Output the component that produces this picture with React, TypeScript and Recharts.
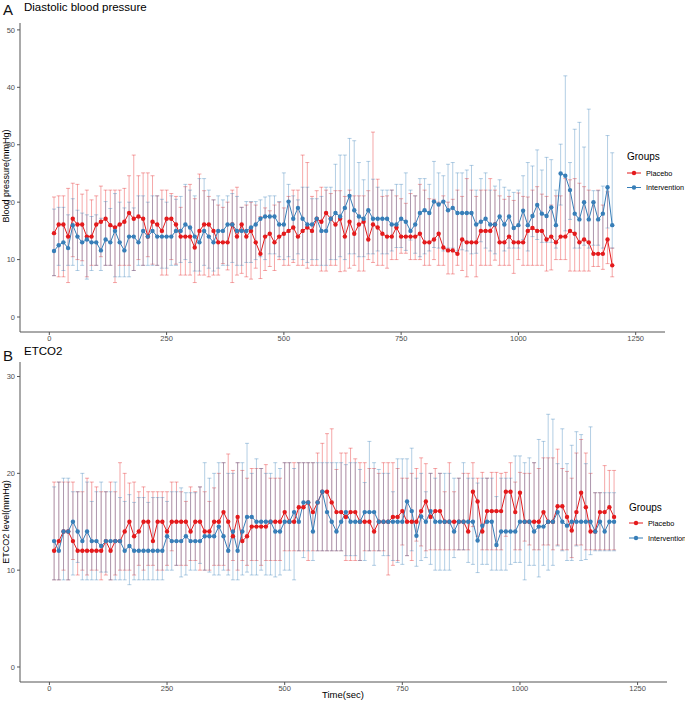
import React from "react";
import { ErrorBar, Line, LineChart, XAxis, YAxis } from "recharts";

// time points (sec)
const seconds = [
  10, 20, 30, 40, 50, 60, 70, 80, 90, 100, 110, 120, 130, 140, 150, 160, 170, 180, 190, 200,
  210, 220, 230, 240, 250, 260, 270, 280, 290, 300, 310, 320, 330, 340, 350, 360, 370, 380, 390, 400,
  410, 420, 430, 440, 450, 460, 470, 480, 490, 500, 510, 520, 530, 540, 550, 560, 570, 580, 590, 600,
  610, 620, 630, 640, 650, 660, 670, 680, 690, 700, 710, 720, 730, 740, 750, 760, 770, 780, 790, 800,
  810, 820, 830, 840, 850, 860, 870, 880, 890, 900, 910, 920, 930, 940, 950, 960, 970, 980, 990, 1000,
  1010, 1020, 1030, 1040, 1050, 1060, 1070, 1080, 1090, 1100, 1110, 1120, 1130, 1140, 1150, 1160, 1170, 1180, 1190, 1200,
];

const timeTicks = [0, 250, 500, 750, 1000, 1250];
const bpTicks = [0, 10, 20, 30, 40, 50];
const etTicks = [0, 10, 20, 30];

// A: diastolic blood pressure
const bpPlacebo = [
  14.6, 16.1, 16.1, 14.0, 17.1, 16.1, 16.1, 14.0, 14.0, 16.1, 16.6, 17.1, 16.0, 15.6, 16.1, 16.6, 18.1, 17.1, 17.5, 17.1, 14.0, 16.6, 16.1, 15.0,
  17.1, 17.1, 16.1, 14.0, 14.0, 14.0, 12.1, 15.0, 16.1, 16.1, 15.0, 13.0, 13.0, 13.0, 16.1, 14.0, 16.1, 14.0, 15.0, 13.0, 11.0, 14.0, 14.5, 13.0, 14.0,
  14.5, 15.0, 15.6, 14.0, 15.0, 15.6, 15.0, 17.1, 16.6, 18.1, 17.1, 16.1, 17.1, 14.0, 16.6, 14.5, 16.1, 16.6, 13.5, 16.1, 15.6, 14.5, 14.0, 14.0,
  15.6, 14.0, 14.0, 14.0, 14.0, 14.5, 13.0, 13.0, 13.5, 14.5, 12.1, 11.6, 11.6, 11.0, 13.5, 13.0, 13.0, 13.0, 15.0, 15.0, 15.0, 16.1, 13.0, 13.0, 14.0,
  13.0, 13.0, 13.0, 15.0, 15.5, 15.0, 15.0, 13.5, 14.0, 13.0, 14.0, 14.0, 15.0, 14.5, 13.0, 13.5, 13.0, 11.0, 11.0, 11.0, 13.5, 9.0,
];
const bpPlaceboHi = [
  20.9, 21.1, 21.1, 22.4, 23.3, 23.1, 21.4, 22.1, 20.4, 21.1, 22.8, 22.1, 22.1, 22.1, 22.1, 22.4, 24.6, 28.2, 24.6, 25.1, 25.1, 24.6, 21.1, 22.1,
  22.1, 21.5, 21.0, 19.1, 22.7, 23.1, 20.6, 24.9, 22.0, 21.0, 20.4, 19.5, 19.1, 20.0, 22.1, 22.6, 19.1, 19.5, 20.0, 19.5, 17.5, 19.0, 18.5, 19.5, 20.0,
  19.0, 21.0, 22.1, 22.1, 28.2, 26.9, 21.0, 22.0, 22.6, 22.1, 21.5, 22.0, 22.0, 21.0, 22.1, 21.1, 21.1, 21.1, 22.0, 32.2, 24.0, 21.0, 21.1, 22.1,
  21.1, 20.6, 19.8, 21.5, 21.1, 23.1, 22.1, 20.6, 20.5, 20.0, 21.1, 20.0, 20.5, 22.1, 21.0, 24.1, 22.1, 21.0, 22.1, 22.1, 24.1, 22.1, 21.1, 20.5, 21.0,
  20.3, 21.6, 21.0, 20.9, 22.1, 22.7, 21.4, 21.0, 19.5, 21.1, 21.1, 24.1, 23.9, 24.1, 23.3, 22.7, 22.1, 20.0, 22.1, 19.5, 21.8, 12.0,
];
const bpPlaceboLo = [
  7.2, 7.0, 7.0, 6.0, 10.5, 10.0, 9.8, 7.0, 9.0, 9.0, 10.5, 9.0, 9.0, 6.0, 9.0, 9.0, 9.0, 8.1, 10.0, 9.0, 10.5, 9.2, 9.0, 7.3,
  7.3, 10.0, 9.2, 7.3, 7.3, 7.3, 6.0, 7.3, 7.3, 7.0, 7.3, 7.3, 9.3, 8.2, 6.0, 7.3, 7.6, 7.0, 6.6, 8.5, 6.7, 8.1, 8.8, 8.1, 10.0,
  9.0, 9.0, 9.5, 9.0, 9.0, 8.5, 9.0, 9.0, 8.0, 8.0, 9.0, 9.0, 7.9, 8.0, 8.5, 9.0, 8.0, 8.0, 10.0, 9.5, 9.0, 9.0, 8.5, 10.0,
  10.0, 11.1, 11.1, 10.0, 10.0, 10.0, 9.0, 9.0, 10.0, 9.0, 9.0, 7.5, 7.5, 9.0, 8.1, 7.0, 9.0, 7.0, 9.0, 9.0, 9.0, 9.9, 9.0, 9.0, 9.0,
  7.6, 10.0, 9.0, 9.0, 9.0, 9.0, 9.0, 8.0, 8.2, 10.0, 10.0, 10.0, 8.0, 8.0, 8.0, 8.0, 8.0, 8.8, 8.8, 8.3, 9.3, 7.0,
];
const bpIntervention = [
  11.5, 12.5, 13.0, 12.0, 16.0, 14.0, 13.0, 13.5, 13.0, 13.0, 11.6, 13.5, 13.0, 15.0, 13.0, 11.6, 14.0, 14.0, 13.0, 15.0, 14.0, 15.0, 14.0, 14.0,
  14.0, 14.0, 15.0, 15.0, 16.1, 15.6, 14.0, 13.0, 15.0, 14.0, 13.0, 15.0, 15.0, 16.1, 16.1, 15.0, 15.0, 15.0, 15.6, 16.1, 17.1, 17.5, 17.5, 17.5, 16.1,
  16.1, 20.1, 17.1, 19.0, 17.1, 16.1, 16.1, 17.1, 15.0, 15.0, 17.1, 18.1, 17.5, 19.0, 21.1, 18.6, 17.5, 17.1, 18.6, 17.1, 17.1, 17.1, 17.1, 16.1,
  16.1, 17.1, 16.6, 15.0, 16.1, 18.1, 18.6, 18.1, 20.1, 19.6, 20.1, 18.6, 19.0, 18.1, 18.1, 18.1, 18.1, 16.1, 16.6, 17.1, 16.1, 16.1, 17.5, 16.1, 17.5,
  15.5, 16.0, 18.5, 16.0, 17.6, 19.5, 18.0, 17.6, 19.1, 16.0, 25.0, 24.6, 22.1, 18.0, 17.0, 20.0, 17.0, 20.0, 17.0, 18.0, 22.6, 16.0,
];
const bpInterventionHi = [
  18.8, 19.1, 19.1, 17.8, 20.6, 18.6, 18.1, 17.8, 17.5, 17.8, 17.2, 20.1, 18.9, 21.5, 20.0, 19.0, 20.0, 19.0, 21.1, 21.1, 20.0, 21.1, 21.1, 20.5,
  20.0, 21.1, 20.5, 21.0, 23.1, 22.1, 21.1, 24.1, 24.1, 22.1, 20.4, 21.1, 20.4, 21.1, 21.5, 21.0, 19.1, 20.1, 20.1, 20.1, 20.4, 20.9, 21.1, 21.1, 20.1,
  25.1, 23.1, 21.1, 20.4, 22.6, 22.6, 20.6, 20.6, 21.0, 22.6, 22.6, 26.6, 28.2, 28.2, 31.1, 30.7, 26.9, 23.9, 27.1, 24.0, 22.6, 22.1, 22.1, 22.1,
  23.1, 23.1, 25.1, 22.1, 21.1, 24.1, 24.1, 23.1, 27.1, 25.1, 24.6, 26.6, 26.9, 25.1, 25.1, 25.6, 26.4, 22.1, 24.1, 25.1, 22.1, 22.8, 23.9, 22.6, 22.1,
  21.7, 22.1, 24.6, 26.9, 26.3, 29.1, 25.6, 27.8, 27.4, 22.1, 30.1, 42.0, 26.9, 32.7, 33.9, 29.6, 36.2, 22.0, 22.0, 22.8, 31.6, 28.6,
];
const bpInterventionLo = [
  7.2, 9.0, 8.1, 9.0, 9.0, 8.1, 9.0, 6.6, 8.1, 9.0, 8.1, 9.0, 9.0, 7.0, 7.0, 7.0, 7.0, 8.1, 9.0, 9.0, 9.0, 9.0, 9.0, 8.5,
  8.5, 9.0, 9.0, 9.5, 10.0, 9.5, 8.0, 8.0, 9.0, 8.5, 8.0, 8.5, 9.0, 9.0, 9.5, 9.0, 9.0, 9.5, 9.5, 10.0, 10.5, 10.0, 11.0, 11.0, 10.5,
  10.0, 10.5, 10.0, 11.0, 10.0, 9.5, 10.0, 10.0, 9.0, 9.0, 10.0, 10.0, 10.5, 10.0, 11.0, 11.0, 10.5, 10.5, 11.0, 11.0, 11.5, 11.0, 11.0, 11.5,
  12.1, 12.1, 11.6, 13.4, 11.1, 10.5, 11.0, 11.5, 12.1, 12.0, 11.5, 12.0, 12.0, 11.5, 11.7, 11.5, 11.0, 11.1, 13.1, 12.0, 11.5, 11.0, 13.1, 11.5, 12.0,
  12.0, 12.0, 13.5, 11.5, 14.0, 13.5, 13.0, 13.0, 13.0, 12.0, 19.5, 15.0, 17.0, 12.0, 12.0, 12.5, 12.0, 12.5, 12.5, 12.0, 15.5, 12.0,
];

// B: ETCO2
const etPlacebo = [
  12, 13, 14, 14, 13, 12, 12, 12, 12, 12, 12, 13, 12, 13, 13, 14, 15, 13.5, 14, 15, 15, 13, 15, 15,
  14, 15, 15, 15, 15, 14, 15, 15, 14, 14, 15, 15, 16, 15, 13.5, 15.5, 13, 13.5, 14.5, 14.5, 14.5, 14.5, 15, 15, 15,
  16, 15, 15, 16.5, 16.5, 17, 16, 17, 18.1, 18.1, 17, 16, 16, 15.5, 16, 16, 15, 15, 15, 14, 15, 15, 15, 15.5,
  15.5, 16.1, 15, 15, 15, 16.1, 17.1, 15.5, 16.1, 16.1, 15, 15, 15, 15, 15, 14, 18.1, 17.1, 14, 16.1, 16.1, 16.1, 16.1, 18.1, 18.1,
  16, 18, 15, 15, 15, 15, 16, 15, 15, 16.6, 16.6, 15.5, 14.1, 16, 18, 16.5, 14, 14, 16, 16, 16.5, 15.5,
];
const etPlaceboHi = [
  19.1, 19.1, 19.1, 19.1, 19.1, 18.1, 18.1, 19.5, 19.1, 18.6, 18.1, 18.1, 19.1, 18.1, 21.1, 20.0, 19.0, 19.1, 18.1, 18.6, 18.1, 18.1, 18.1, 18.1,
  18.1, 19.1, 19.1, 18.1, 17.1, 18.6, 18.1, 18.6, 18.1, 17.1, 18.5, 20.0, 21.1, 22.0, 20.3, 21.1, 20.3, 19.5, 20.5, 20.5, 20.5, 20.9, 19.5, 19.5, 19.5,
  21.1, 21.1, 21.1, 21.1, 21.1, 21.1, 21.1, 22.1, 23.1, 24.1, 24.6, 20.4, 22.1, 22.1, 22.6, 21.5, 21.1, 21.1, 20.5, 20.5, 20.0, 21.1, 21.1, 21.1,
  20.5, 19.5, 19.5, 20.0, 20.5, 21.6, 21.0, 20.0, 20.5, 20.0, 18.1, 21.1, 18.1, 19.5, 20.0, 20.0, 21.1, 19.5, 20.1, 19.5, 20.1, 20.1, 20.0, 20.1, 21.1,
  19.1, 20.1, 20.0, 20.0, 21.1, 20.5, 21.6, 21.6, 21.6, 22.5, 20.5, 20.2, 19.5, 22.1, 23.5, 22.1, 20.0, 18.0, 18.0, 20.8, 20.3, 20.3,
];
const etPlaceboLo = [
  9.0, 9.0, 10.0, 9.0, 11.1, 9.5, 10.0, 9.5, 10.0, 10.0, 9.0, 9.5, 9.0, 9.5, 10.0, 10.0, 10.0, 9.5, 10.5, 10.0, 10.5, 10.5, 10.0, 10.0,
  10.5, 12.0, 10.5, 10.5, 10.5, 11.0, 11.0, 10.0, 10.0, 10.0, 10.5, 10.5, 10.5, 10.0, 11.0, 10.0, 11.0, 10.5, 11.0, 11.0, 10.5, 11.0, 11.0, 11.0, 11.0,
  12, 12, 12, 12, 12, 11, 12, 12, 12, 12, 12, 12, 12, 11, 11, 11, 11, 12, 12, 12, 12, 12, 9.5, 10.5,
  11.0, 12.6, 11.5, 11.0, 13.0, 12.5, 12.0, 12.1, 12.1, 12.1, 12.1, 12.1, 12.1, 12.1, 12.1, 12.1, 14.5, 13.5, 12.1, 12.1, 12.1, 12.1, 12.1, 13.5, 14.0,
  12.1, 12.1, 13.0, 12.6, 12.1, 12.1, 12.6, 12.6, 12.1, 12.6, 12.1, 12.1, 11.3, 12.6, 12.6, 12.1, 12.1, 12.1, 12.1, 12.1, 12.1, 12.1,
];
const etIntervention = [
  13, 12, 14, 14, 15, 14, 13, 14, 13, 13, 12.5, 13, 13, 13, 13, 12, 12.5, 12, 12, 12, 12, 12, 12, 12,
  13.5, 13, 13, 13, 13.5, 13, 13, 13, 13.5, 13.5, 13.5, 14.5, 13.5, 12, 14, 12, 14, 15.5, 15.5, 15, 15, 15, 15, 14, 14,
  15, 15, 16, 15, 17, 17, 14, 17, 18.1, 16, 15, 14, 15, 16, 15, 15, 15, 16, 16, 16, 15, 15, 15, 15,
  15, 15, 17.1, 16.1, 13.55, 15.55, 15, 16.1, 15, 15, 15, 15, 14, 15, 15, 15, 15, 13.06, 14.6, 15, 15, 12.6, 14, 14, 14,
  14, 15, 15, 15, 14, 14.5, 14.5, 15, 15, 16, 15, 14.6, 15, 15, 15, 15, 15, 14, 15, 14, 15, 15,
];
const etInterventionHi = [
  18.6, 19.1, 19.5, 19.5, 18.1, 18.1, 20.0, 19.1, 17.1, 18.1, 19.1, 18.1, 18.1, 19.1, 17.5, 17.1, 17.8, 17.0, 17.5, 17.5, 17.0, 17.5, 17.5, 17.5,
  17.1, 18.1, 18.1, 18.5, 18.0, 18.0, 18.0, 18.6, 21.1, 19.5, 20.0, 21.1, 21.1, 20.0, 20.0, 21.1, 21.1, 23.1, 20.0, 21.5, 20.5, 20.0, 20.0, 21.1, 20.5,
  21.1, 21.1, 20.5, 21.1, 21.1, 21.1, 21.1, 21.1, 21.1, 21.1, 21.1, 21.1, 21.1, 20.9, 21.1, 21.1, 20.4, 19.05, 23.3, 21.1, 20.4, 20.0, 20.0, 18.1,
  21.5, 21.5, 21.5, 22.6, 19.5, 20.0, 18.1, 20.0, 19.5, 20.0, 20.0, 20.0, 19.5, 19.5, 21.1, 19.5, 19.5, 19.0, 19.5, 19.5, 19.5, 17.6, 19.5, 19.5, 19.5,
  21.8, 21.8, 21.1, 21.6, 21.1, 23.5, 23.3, 26.1, 25.6, 21.0, 24.6, 21.0, 22.9, 24.3, 24.0, 21.0, 24.8, 18.0, 18.0, 18.0, 18.0, 18.0,
];
const etInterventionLo = [
  9.0, 9.0, 9.0, 9.0, 9.5, 10.8, 9.0, 9.0, 9.0, 9.0, 9.8, 9.8, 9.0, 9.0, 9.0, 9.0, 8.5, 9.0, 9.0, 9.0, 9.0, 9.0, 9.0, 9.0,
  10.0, 10.0, 10.5, 9.3, 9.5, 10.0, 10.0, 10.7, 10.0, 9.8, 9.5, 9.5, 10.0, 9.5, 9.0, 9.0, 9.5, 9.8, 9.5, 9.5, 10.0, 9.5, 9.5, 9.3, 9.5,
  10.0, 10.0, 9.0, 12, 11.3, 12, 11, 12, 12, 12, 12, 12, 12, 11.5, 11.5, 11.5, 11.0, 11.0, 12.0, 10.5, 12.0, 11.5, 11.5, 11.0,
  10.8, 10.6, 11.5, 12.0, 10.4, 11.0, 11.3, 10.6, 10.0, 10.0, 10.0, 10.0, 11.3, 12.1, 12.1, 10.8, 10.6, 9.75, 10.6, 10.6, 10.0, 10.0, 10.0, 10.0, 10.6,
  10.8, 10.8, 9.0, 10.5, 10.5, 9.3, 10.5, 10.0, 10.5, 12.5, 12.0, 11.0, 11.0, 12.5, 11.0, 11.1, 11.6, 12.0, 12.0, 12.0, 12.0, 12.0,
];

const RED = "#E41A1C";
const BLUE = "#377EB8";
const RED_BAR = "rgba(228,26,28,0.38)";
const BLUE_BAR = "rgba(55,126,184,0.38)";
const AXIS = "#555555";
const TICK_TEXT = "#4D4D4D";

function rows(pm: number[], plo: number[], phi: number[], im: number[], ilo: number[], ihi: number[]) {
  return seconds.map((t, i) => ({
    t,
    placebo: pm[i],
    intervention: im[i],
    pErr: [Math.max(0, pm[i] - plo[i]), Math.max(0, phi[i] - pm[i])],
    iErr: [Math.max(0, im[i] - ilo[i]), Math.max(0, ihi[i] - im[i])],
  }));
}

const bpRows = rows(bpPlacebo, bpPlaceboLo, bpPlaceboHi, bpIntervention, bpInterventionLo, bpInterventionHi);
const etRows = rows(etPlacebo, etPlaceboLo, etPlaceboHi, etIntervention, etInterventionLo, etInterventionHi);

type PanelProps = {
  data: any[];
  height: number;
  margin: { top: number; right: number; left: number; bottom: number };
  yDomain: [number, number];
  yTicks: number[];
};

function Panel({ data, height, margin, yDomain, yTicks }: PanelProps) {
  const tick = { fontSize: 7.5, fill: TICK_TEXT };
  return (
    <LineChart width={685} height={height} data={data} margin={margin}>
      <XAxis
        type="number"
        dataKey="t"
        domain={[-62.5, 1312.5]}
        ticks={timeTicks}
        interval={0}
        allowDataOverflow
        height={13}
        tickSize={3}
        tickMargin={1}
        stroke={AXIS}
        tick={tick}
      />
      <YAxis
        type="number"
        domain={yDomain}
        ticks={yTicks}
        interval={0}
        allowDataOverflow
        width={20}
        tickSize={3}
        tickMargin={2}
        stroke={AXIS}
        tick={tick}
      />
      {/* error bars first so the lines sit on top */}
      <Line dataKey="placebo" stroke="none" dot={false} activeDot={false} legendType="none" isAnimationActive={false}>
        <ErrorBar dataKey="pErr" direction="y" width={2} stroke={RED_BAR} strokeWidth={1} isAnimationActive={false} />
      </Line>
      <Line dataKey="intervention" stroke="none" dot={false} activeDot={false} legendType="none" isAnimationActive={false}>
        <ErrorBar dataKey="iErr" direction="y" width={2} stroke={BLUE_BAR} strokeWidth={1} isAnimationActive={false} />
      </Line>
      <Line
        dataKey="placebo"
        stroke={RED}
        strokeWidth={1}
        dot={{ r: 2.2, fill: RED, stroke: "none" }}
        activeDot={false}
        isAnimationActive={false}
      />
      <Line
        dataKey="intervention"
        stroke={BLUE}
        strokeWidth={1}
        dot={{ r: 2.2, fill: BLUE, stroke: "none" }}
        activeDot={false}
        isAnimationActive={false}
      />
    </LineChart>
  );
}

function LegendKey({ x, y, color, label }: { x: number; y: number; color: string; label: string }) {
  return (
    <g>
      <line x1={x} y1={y} x2={x + 14} y2={y} stroke={color} strokeWidth={1} />
      <circle cx={x + 7} cy={y} r={2.2} fill={color} />
      <text x={x + 19} y={y + 2.7} fontSize={7.3} fill="#000">
        {label}
      </text>
    </g>
  );
}

export default function App() {
  return (
    <div
      style={{
        position: "absolute",
        left: 0,
        top: 0,
        width: 685,
        height: 705,
        background: "#fff",
        fontFamily: "'Liberation Sans', Arial, sans-serif",
      }}
    >
      <div style={{ position: "absolute", left: 0, top: 0 }}>
        <Panel
          data={bpRows}
          height={345}
          margin={{ top: 23, right: 20, left: 0, bottom: 0 }}
          yDomain={[-2.61, 51.2]}
          yTicks={bpTicks}
        />
      </div>
      <div style={{ position: "absolute", left: 0, top: 345 }}>
        <Panel
          data={etRows}
          height={350}
          margin={{ top: 17, right: 18, left: 0, bottom: 0 }}
          yDomain={[-1.55, 31.5]}
          yTicks={etTicks}
        />
      </div>
      <svg
        width={685}
        height={705}
        style={{ position: "absolute", left: 0, top: 0, pointerEvents: "none" }}
      >
        <text x={3} y={15} fontSize={15} fill="#111">A</text>
        <text x={24} y={11} fontSize={11.5} fill="#000">Diastolic blood pressure</text>
        <text transform="translate(9,176) rotate(-90)" textAnchor="middle" fontSize={9} fill="#000">
          Blood pressure(mmHg)
        </text>
        <text x={627} y={160} fontSize={10} fill="#000">Groups</text>
        <LegendKey x={627} y={173} color={RED} label="Placebo" />
        <LegendKey x={627} y={187.5} color={BLUE} label="Intervention" />

        <text x={3} y={361} fontSize={15} fill="#111">B</text>
        <text x={24} y={355} fontSize={11.5} fill="#000">ETCO2</text>
        <text transform="translate(9,522) rotate(-90)" textAnchor="middle" fontSize={9} fill="#000">
          ETCO2 level(mmHg)
        </text>
        <text x={629} y={511} fontSize={10} fill="#000">Groups</text>
        <LegendKey x={629} y={523} color={RED} label="Placebo" />
        <LegendKey x={629} y={538} color={BLUE} label="Intervention" />
        <text x={343} y={698} textAnchor="middle" fontSize={9.5} fill="#000">Time(sec)</text>
      </svg>
    </div>
  );
}
